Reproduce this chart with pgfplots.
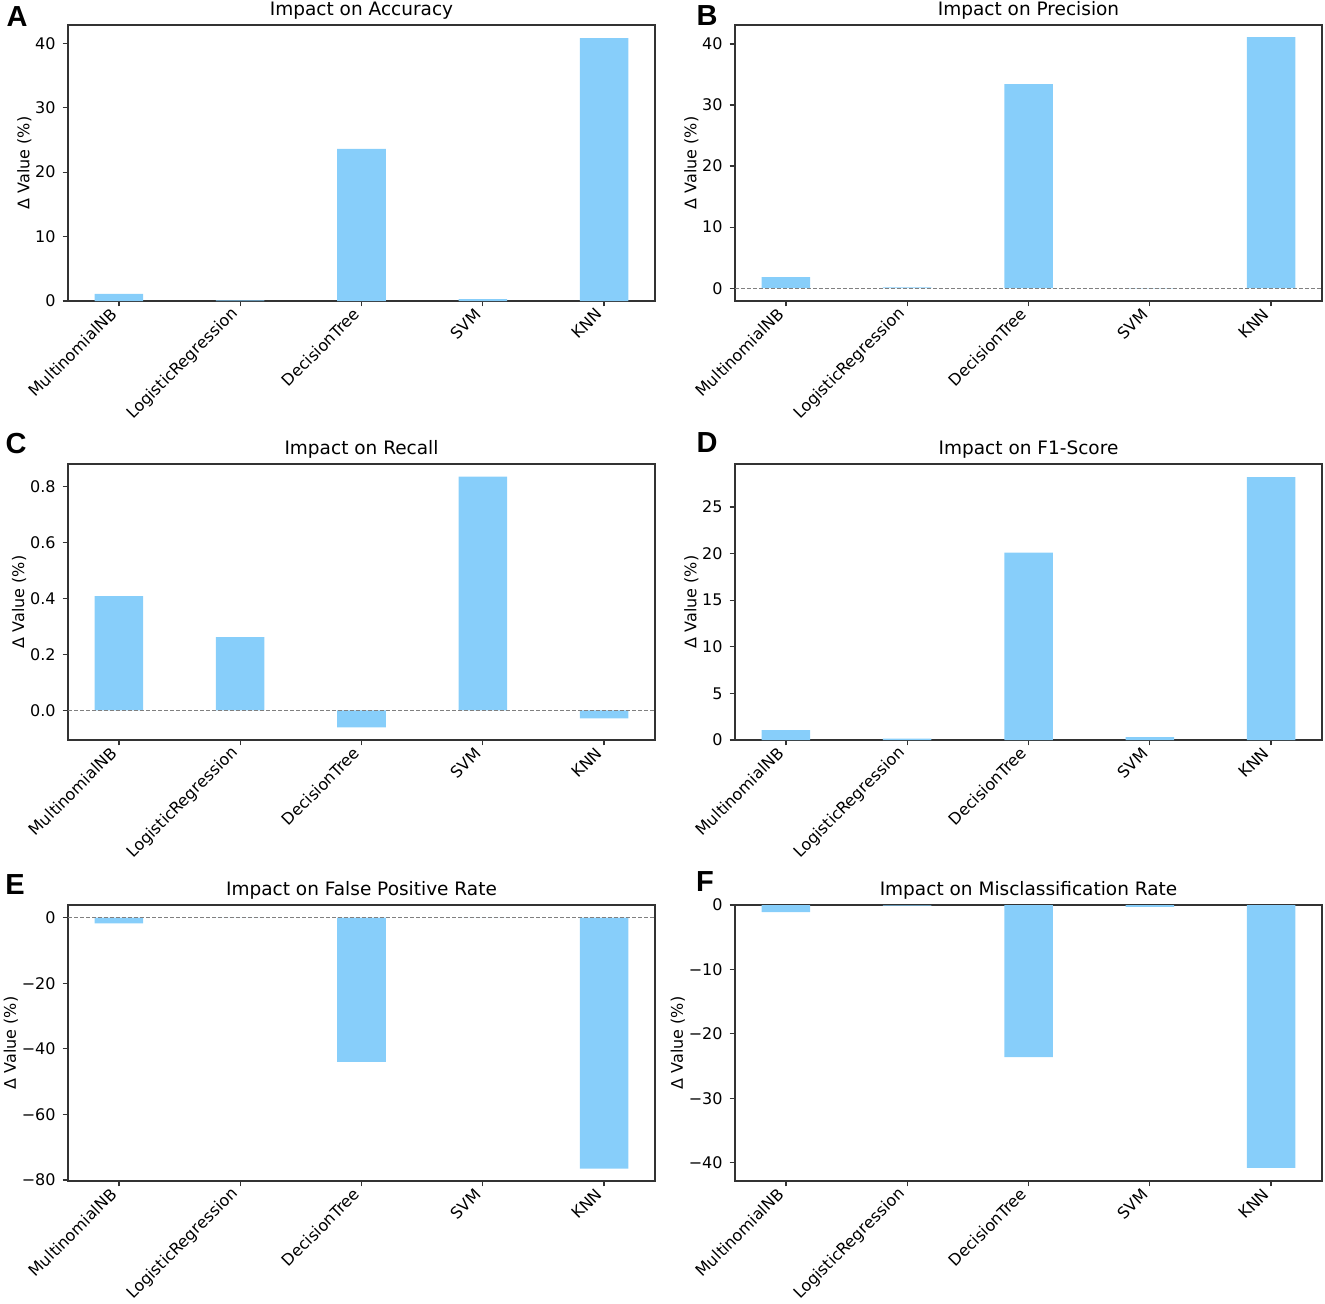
\documentclass[border=0pt]{standalone}
\usepackage{fontspec}
\setmainfont{DejaVu Sans}
\newfontfamily\letterfont{Liberation Sans}
\usepackage{pgfplots}
\pgfplotsset{compat=1.18}
\definecolor{skyb}{RGB}{135,206,250}

\pgfplotsset{
  panel/.style={
    scale only axis, width=293.5pt, height=138pt,
    anchor=north west,
    xmin=-0.42, xmax=4.42,
    xtick={0,1,2,3,4},
    xticklabels={MultinomialNB,LogisticRegression,DecisionTree,SVM,KNN},
    xtick pos=bottom, ytick pos=left,
    tick align=outside,
    major tick length=2.7pt,
    tick style={black!80, line width=0.6pt},
    axis line style={black!80, line width=0.6pt},
    tick label style={font=\fontsize{8}{9.5}\selectfont},
    xticklabel style={rotate=45, anchor=east},
    ylabel={Δ Value (\%)},
    ylabel style={font=\fontsize{8}{9.5}\selectfont, yshift=-5pt},
    title style={font=\fontsize{9.25}{11}\selectfont, inner sep=0pt, yshift=-3.5pt},
  },
  mybars/.style={ybar, bar width=0.4, fill=skyb, draw=none},
  zeroline/.style={gray, dash pattern=on 2pt off 1pt, line width=0.5pt, forget plot},
}
\tikzset{letter/.style={font=\letterfont\bfseries\fontsize{14.5}{16}\selectfont, inner sep=0pt}}

\begin{document}
\begin{tikzpicture}
\useasboundingbox (0,0) rectangle (662.5pt,-651.5pt);

% A
\begin{axis}[panel, at={(34pt,-12.5pt)}, title={Impact on Accuracy},
  ymin=0, ymax=42.84, ytick={0,10,20,30,40}, yticklabels={0,10,20,30,40}]
\addplot[mybars] coordinates {(0,1.1) (1,0.1) (2,23.6) (3,0.3) (4,40.8)};
\end{axis}

% B
\begin{axis}[panel, at={(367.5pt,-12.5pt)}, title={Impact on Precision},
  ymin=-2.1, ymax=43.1, ytick={0,10,20,30,40}, yticklabels={0,10,20,30,40}]
\addplot[mybars] coordinates {(0,1.8) (1,0.15) (2,33.4) (3,-0.01) (4,41.1)};
\addplot[zeroline] coordinates {(-0.42,0) (4.42,0)};
\end{axis}

% C
\begin{axis}[panel, at={(34pt,-232pt)}, title={Impact on Recall},
  ymin=-0.106, ymax=0.881, ytick={0,0.2,0.4,0.6,0.8}, yticklabels={0.0,0.2,0.4,0.6,0.8}]
\addplot[mybars] coordinates {(0,0.409) (1,0.262) (2,-0.061) (3,0.836) (4,-0.029)};
\addplot[zeroline] coordinates {(-0.42,0) (4.42,0)};
\end{axis}

% D
\begin{axis}[panel, at={(367.5pt,-232pt)}, title={Impact on F1-Score},
  ymin=0, ymax=29.6, ytick={0,5,10,15,20,25}, yticklabels={0,5,10,15,20,25}]
\addplot[mybars] coordinates {(0,1.07) (1,0.15) (2,20.1) (3,0.32) (4,28.2)};
\end{axis}

% E
\begin{axis}[panel, at={(34pt,-452.5pt)}, title={Impact on False Positive Rate},
  ymin=-80.3, ymax=3.83, ytick={-80,-60,-40,-20,0}, yticklabels={−80,−60,−40,−20,0}]
\addplot[mybars] coordinates {(0,-1.8) (1,0.01) (2,-44.0) (3,0) (4,-76.5)};
\addplot[zeroline] coordinates {(-0.42,0) (4.42,0)};
\end{axis}

% F
\begin{axis}[panel, at={(367.5pt,-452.5pt)}, title={Impact on Misclassification Rate},
  ymin=-42.84, ymax=0, ytick={-40,-30,-20,-10,0}, yticklabels={−40,−30,−20,−10,0}]
\addplot[mybars] coordinates {(0,-1.1) (1,-0.1) (2,-23.6) (3,-0.3) (4,-40.8)};
\end{axis}

\node[letter] at (8.5pt,-8.5pt) {A};
\node[letter] at (353.5pt,-8pt) {B};
\node[letter] at (8pt,-222pt) {C};
\node[letter] at (353.5pt,-221.5pt) {D};
\node[letter] at (7.5pt,-442pt) {E};
\node[letter] at (352.5pt,-440.5pt) {F};
\end{tikzpicture}
\end{document}
